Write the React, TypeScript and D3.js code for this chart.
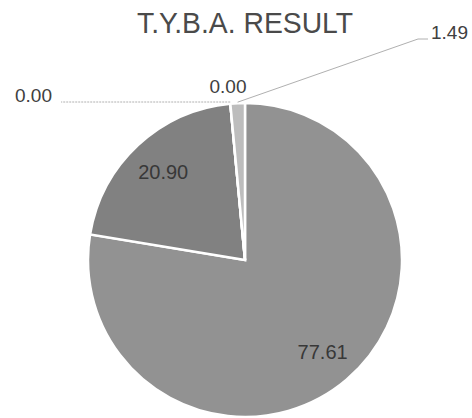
import React from "react";
import * as d3 from "d3";

const title = "T.Y.B.A. RESULT";
const categories = ["A", "B", "C", "D", "E"];
const values = [77.61, 20.9, 0.0, 0.0, 1.49];
const valueLabels = ["77.61", "20.90", "0.00", "0.00", "1.49"];
const colors = ["#929292", "#818181", "#a0a0a0", "#a0a0a0", "#bdbdbd"];

const W = 472;
const H = 418;
const cx = 245;
const cy = 260;
const R = 157;
const labelR = 120;

const outside: Record<number, { x: number; y: number; anchor: string; elbow?: [number, number] | null; line: boolean }> = {
  2: { x: 15, y: 102, anchor: "start", elbow: null, line: true },
  3: { x: 228, y: 93, anchor: "middle", elbow: null, line: false },
  4: { x: 431, y: 39, anchor: "start", elbow: [418, 39], line: true },
};

export default function App() {
  const pie = d3
    .pie<number>()
    .sort(null)
    .value((d) => d);
  const arcs = pie(values);
  const arc = d3.arc<d3.PieArcDatum<number>>().innerRadius(0).outerRadius(R);
  const labelArc = d3
    .arc<d3.PieArcDatum<number>>()
    .innerRadius(labelR)
    .outerRadius(labelR);

  const edgePoint = (a: d3.PieArcDatum<number>, r: number) => {
    const ang = (a.startAngle + a.endAngle) / 2;
    return [Math.sin(ang) * r, -Math.cos(ang) * r];
  };

  return (
    <svg
      width={W}
      height={H}
      style={{ position: "absolute", left: 0, top: 0, background: "#fff" }}
    >
      <text
        x={cx}
        y={33}
        textAnchor="middle"
        fontFamily="Liberation Sans, Arial, sans-serif"
        fontSize={30}
        textLength={216}
        lengthAdjust="spacingAndGlyphs"
        fill="#4a4a4a"
      >
        {title}
      </text>
      <g transform={`translate(${cx},${cy})`}>
        {arcs.map((a, i) => (
          <path
            key={categories[i]}
            d={arc(a) || ""}
            fill={colors[i]}
            stroke="#ffffff"
            strokeWidth={2.5}
            strokeLinejoin="miter"
          />
        ))}
      </g>
      {arcs.map((a, i) => {
        const o = outside[i];
        if (o) {
          const [ex, ey] = edgePoint(a, R + 1);
          const sx = cx + ex;
          const sy = cy + ey;
          let pts = "";
          if (o.line) {
            if (o.elbow) {
              pts = `${sx},${sy} ${o.elbow[0]},${o.elbow[1]} ${o.x - 3},${o.elbow[1]}`;
            } else {
              pts = `${sx},${o.y} ${o.x + 46},${o.y}`;
            }
          }
          return (
            <g key={"l" + i}>
              {o.line && (
                <polyline
                  points={pts}
                  fill="none"
                  stroke="#b0b0b0"
                  strokeWidth={1}
                  strokeDasharray={o.elbow ? undefined : "2,1"}
                />
              )}
              <text
                x={o.x}
                y={o.y}
                textAnchor={o.anchor as any}
                fontFamily="Liberation Sans, Arial, sans-serif"
                fontSize={19}
                fill="#404040"
              >
                {valueLabels[i]}
              </text>
            </g>
          );
        }
        const [lx, ly] = labelArc.centroid(a);
        return (
          <text
            key={"l" + i}
            x={cx + lx}
            y={cy + ly}
            dy="0.35em"
            textAnchor="middle"
            fontFamily="Liberation Sans, Arial, sans-serif"
            fontSize={20}
            fill="#383838"
          >
            {valueLabels[i]}
          </text>
        );
      })}
    </svg>
  );
}
